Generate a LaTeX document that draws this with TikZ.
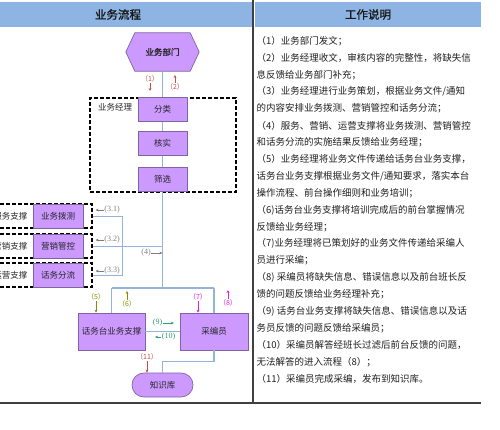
\documentclass[tikz,border=0pt]{standalone}
\usepackage{fontspec}
\setmainfont{Liberation Serif}
\newfontfamily\cjk{Noto Sans CJK SC}
\newfontfamily\cjkb{Noto Sans CJK SC}[FakeBold=1.2]
\usetikzlibrary{arrows.meta,calc,backgrounds}

\definecolor{hdr}{HTML}{8DB4E2}
\definecolor{pfill}{HTML}{CC99FF}
\definecolor{pdraw}{HTML}{8064A2}
\definecolor{flow}{HTML}{95B3D7}
\definecolor{lred}{HTML}{C0504D}
\definecolor{lgray}{HTML}{7F7F7F}
\definecolor{lolive}{HTML}{8A8A00}
\definecolor{lmag}{HTML}{E020E0}
\definecolor{lgreen}{HTML}{2E9E6E}
\definecolor{rule}{HTML}{404040}

\begin{document}
\begin{tikzpicture}[x=1pt,y=-1pt,
  pbox/.style={draw=pdraw, fill=pfill, line width=0.7pt, inner sep=0pt,
    font=\cjk\fontsize{8.5}{10}\selectfont, text=black!85},
  dbox/.style={draw=black, dash pattern=on 4pt off 2pt, line width=1.1pt, inner sep=0pt},
  flowline/.style={draw=flow, line width=1.1pt},
  thinflow/.style={draw=flow, line width=0.8pt},
  trunk/.style={draw=flow, line width=1.7pt},
  lblh/.style={font=\fontsize{8}{9}\selectfont, inner sep=0.5pt},
  lblf/.style={font=\cjk\fontsize{7}{8}\selectfont, inner sep=0.5pt},
  larr/.style={-{Stealth[length=3pt,width=2.8pt]}, line width=0.6pt},
  desc/.style={anchor=west, font=\cjk\fontsize{9.5}{11}\selectfont, inner sep=0pt, text=black!88},
  hdrtxt/.style={font=\cjkb\fontsize{11.5}{13}\selectfont, text=black!90},
  sidetxt/.style={font=\cjk\fontsize{8.5}{10}\selectfont, text=black!85, inner sep=0pt}
]
\useasboundingbox (0,0) rectangle (500,429);
\clip (0,0) rectangle (500,429);

% table frame
\fill[hdr] (0,2) rectangle (252,27);
\fill[hdr] (254.5,2) rectangle (481,27);
\draw[rule, line width=1.3pt] (253,0) -- (253,403);
\draw[rule, line width=1.3pt] (0,403) -- (481,403);
\node[hdrtxt] (h1) at (118,14.5) {业务流程};
\node[hdrtxt] (h2) at (368,14.5) {工作说明};

% top department (hexagon)
\node[inner sep=0pt, minimum width=73pt, minimum height=38pt,
  font=\cjkb\fontsize{8.5}{10}\selectfont, text=black!85] (dept) at (162.5,52) {业务部门};
\begin{scope}[on background layer]
\draw[draw=pdraw, fill=pfill, line width=0.7pt]
  (dept.west) -- ($(dept.north west)+(9,0)$) -- ($(dept.north east)+(-9,0)$)
  -- (dept.east) -- ($(dept.south east)+(-9,0)$) -- ($(dept.south west)+(9,0)$) -- cycle;
\end{scope}

% business manager group
\node[dbox, minimum width=146pt, minimum height=94pt] (mgr) at (163,145) {};
\node[sidetxt] (mgrlbl) at (115,107) {业务经理};
\node[pbox, minimum width=49pt, minimum height=24.5pt] (fl) at (162.5,109.5) {分类};
\node[pbox, minimum width=49pt, minimum height=24pt] (hs) at (162.5,143.5) {核实};
\node[pbox, minimum width=49pt, minimum height=24pt] (sx) at (162.5,179.5) {筛选};

% left support groups
\node[dbox, minimum width=122pt, minimum height=24pt] (d1) at (31,216) {};
\node[dbox, minimum width=122pt, minimum height=24pt] (d2) at (31,246) {};
\node[dbox, minimum width=122pt, minimum height=24pt] (d3) at (31,275) {};
\node[sidetxt] (s1) at (10.5,216) {服务支撑};
\node[sidetxt] (s2) at (10.5,246) {营销支撑};
\node[sidetxt] (s3) at (10.5,275) {运营支撑};
\node[pbox, minimum width=50pt, minimum height=24pt] (p1) at (58,216) {业务拨测};
\node[pbox, minimum width=50pt, minimum height=24pt] (p2) at (58,246) {营销管控};
\node[pbox, minimum width=50pt, minimum height=24pt] (p3) at (58,275) {话务分流};

% bottom boxes
\node[pbox, minimum width=67pt, minimum height=37pt] (zc) at (111.5,331.5) {话务台业务支撑};
\node[pbox, minimum width=68pt, minimum height=37pt] (cb) at (214,331.5) {采编员};
\node[pbox, minimum width=61pt, minimum height=24pt, rounded corners=11.9pt] (kb) at (162.5,385) {知识库};

% main flow
\coordinate (jn) at (162.5,288);
\draw[trunk] (dept.south) -- (fl.north);
\draw[trunk] (fl.south) -- (hs.north);
\draw[trunk] (hs.south) -- (sx.north);
\draw[trunk] (sx.south) -- (jn);
\draw[trunk] (zc.north |- jn) -- (cb.north |- jn);
\draw[flowline] (zc.north |- jn) -- (zc.north);
\draw[flowline] (cb.north |- jn) -- (cb.north);
\draw[thinflow] (d1.east) -- ++(30,0) |- (d3.east);
\draw[thinflow] (d2.east) -- (d2.east -| jn);
\draw[flowline] (zc.east) -- (cb.west);
\draw[flowline] (cb.south) |- ($(kb.north)+(0,-11)$) -- (kb.north);

% step labels
\node[lblf, text=lred] (l1) at (150,79) {（1）};
\draw[larr, lred] (l1.south) -- ++(0,8);
\node[lblf, text=lred] (l2) at (175,87) {（2）};
\draw[larr, lred] (l2.north) -- ++(0,-8);

\node[lblh, text=lgray] (l31) at (112,210) {(3.1)};
\draw[larr, lgray] (l31.west) -- ++(-8,0);
\node[lblh, text=lgray] (l32) at (112,240) {(3.2)};
\draw[larr, lgray] (l32.west) -- ++(-8,0);
\node[lblh, text=lgray] (l33) at (112,271) {(3.3)};
\draw[larr, lgray] (l33.west) -- ++(-8,0);
\node[lblh, text=lgray] (l4) at (146,253) {(4)};
\draw[larr, lgray] (l4.east) -- (l4.east -| jn);

\node[lblf, text=lolive] (l5) at (96,297) {（5）};
\draw[larr, lolive] (l5.south) -- (l5.south |- zc.north);
\node[lblf, text=lolive] (l6) at (127,304) {（6）};
\draw[larr, lolive] (l6.north) -- ++(0,-9);
\node[lblf, text=lmag] (l7) at (198,297) {（7）};
\draw[larr, lmag] (l7.south) -- (l7.south |- cb.north);
\node[lblf, text=lmag] (l8) at (228,303) {（8）};
\draw[larr, lmag] (l8.north) -- ++(0,-9);

\node[lblh, text=lgreen] (l9) at (157.5,323) {(9)};
\draw[larr, lgreen] (l9.east) -- ++(11,0);
\node[lblh, text=lgreen] (l10) at (168.5,337) {(10)};
\draw[larr, lgreen] (l10.west) -- ++(-6,0);

\node[lblf, text=lred] (l11) at (147,357) {（11）};
\draw[larr, lred] (l11.south) -- (l11.south |- kb.north);

% work description
\foreach \t [count=\i from 0] in {
  （1）业务部门发文；,
  （2）业务经理收文，审核内容的完整性，将缺失信,
  息反馈给业务部门补充；,
  （3）业务经理进行业务策划，根据业务文件/通知,
  的内容安排业务拨测、营销管控和话务分流；,
  （4）服务、营销、运营支撑将业务拨测、营销管控,
  和话务分流的实施结果反馈给业务经理；,
  （5）业务经理将业务文件传递给话务台业务支撑，,
  话务台业务支撑根据业务文件/通知要求，落实本台,
  操作流程、前台操作细则和业务培训；,
  （6)话务台业务支撑将培训完成后的前台掌握情况,
  反馈给业务经理；,
  （7)业务经理将已策划好的业务文件传递给采编人,
  员进行采编；,
  （8) 采编员将缺失信息、错误信息以及前台班长反,
  馈的问题反馈给业务经理补充；,
  （9) 话务台业务支撑将缺失信息、错误信息以及话,
  务员反馈的问题反馈给采编员；,
  （10）采编员解答经班长过滤后前台反馈的问题，,
  无法解答的进入流程（8）；,
  （11）采编员完成采编，发布到知识库。}
  \node[desc] (t\i) at (256.5,{41+16.9*\i}) {\t};
\end{tikzpicture}
\end{document}
